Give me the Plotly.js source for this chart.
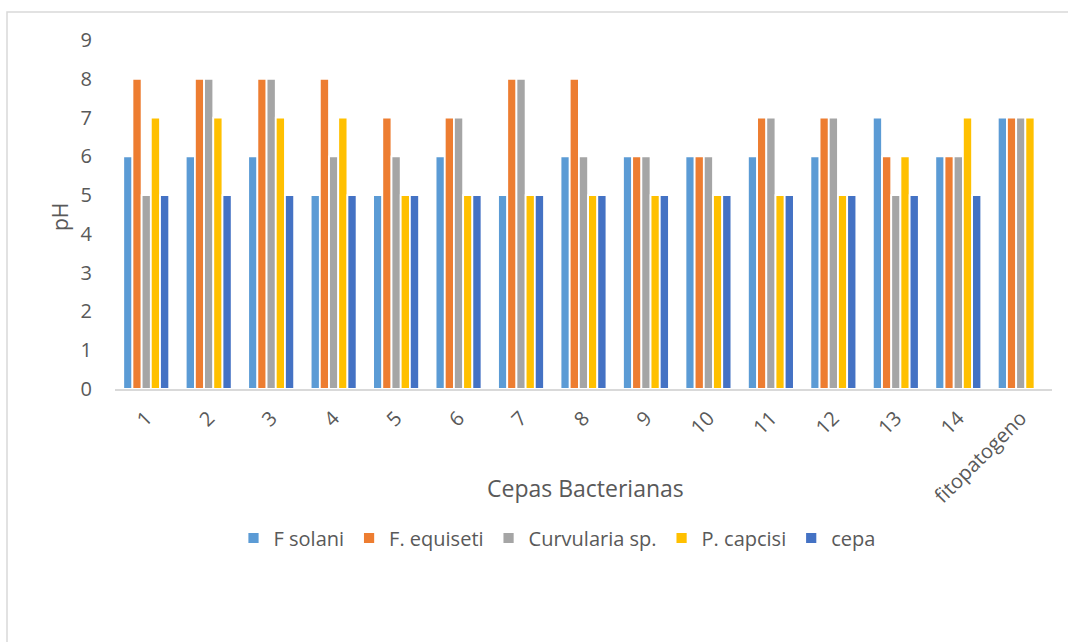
<!DOCTYPE html>
<html>
<head>
<meta charset="utf-8">
<script src="https://cdn.plot.ly/plotly-3.0.1.min.js"></script>
<style>
  html, body { margin: 0; padding: 0; background: #ffffff; }
  #chart { width: 1068px; height: 642px; }
</style>
</head>
<body>
<div id="chart"></div>
<script>
// Bacterial strains tested against each phytopathogen
const categories = ['1', '2', '3', '4', '5', '6', '7', '8', '9', '10', '11', '12', '13', '14', 'fitopatogeno'];

// pH per strain and pathogen
const fSolani     = [6, 6, 6, 5, 5, 6, 5, 6, 6, 6, 6, 6, 7, 6, 7];
const fEquiseti   = [8, 8, 8, 8, 7, 7, 8, 8, 6, 6, 7, 7, 6, 6, 7];
const curvularia  = [5, 8, 8, 6, 6, 7, 8, 6, 6, 6, 7, 7, 5, 6, 7];
const pCapcisi    = [7, 7, 7, 7, 5, 5, 5, 5, 5, 5, 5, 5, 6, 7, 7];
const cepa        = [5, 5, 5, 5, 5, 5, 5, 5, 5, 5, 5, 5, 5, 5, null];

const seriesNames = ['F solani', 'F. equiseti', 'Curvularia sp.', 'P. capcisi', 'cepa'];
const seriesValues = [fSolani, fEquiseti, curvularia, pCapcisi, cepa];
const seriesColors = ['#5B9BD5', '#ED7D31', '#A5A5A5', '#FFC000', '#4472C4'];

const FONT = '"Open Sans", "DejaVu Sans", sans-serif';
const TEXT = '#595959';

const traces = seriesNames.map((name, i) => ({
  type: 'bar',
  name: name,
  x: categories,
  y: seriesValues[i],
  marker: { color: seriesColors[i], line: { color: '#ffffff', width: 1.8 } },
  hoverinfo: 'x+y+name'
}));

// plot area geometry in pixels (used to place paper-referenced annotations)
const L = 115, R = 16, T = 40, B = 253;
const W = 1068, H = 642;
const pw = W - L - R, ph = H - T - B;
const px = x => (x - L) / pw;
const py = y => (H - B - y) / ph;

const layout = {
  width: W,
  height: H,
  margin: { l: L, r: R, t: T, b: B, pad: 0 },
  paper_bgcolor: '#ffffff',
  plot_bgcolor: '#ffffff',
  font: { family: FONT, color: TEXT, size: 18 },
  barmode: 'group',
  bargap: 0.264,
  bargroupgap: 0,
  showlegend: true,
  legend: {
    orientation: 'h',
    x: px(557), xanchor: 'center',
    y: py(538), yanchor: 'middle',
    font: { family: FONT, size: 20, color: TEXT },
    itemwidth: 30,
    traceorder: 'normal'
  },
  xaxis: {
    type: 'category',
    tickangle: -45,
    showgrid: false,
    zeroline: false,
    showline: true,
    linecolor: '#D9D9D9',
    linewidth: 1.5,
    ticks: '',
    ticklabelstandoff: 8,
    tickfont: { family: FONT, size: 20, color: TEXT },
    fixedrange: true
  },
  yaxis: {
    range: [0, 9],
    dtick: 1,
    tick0: 0,
    showgrid: false,
    zeroline: false,
    showline: false,
    ticks: '',
    ticklabelstandoff: 22,
    tickfont: { family: FONT, size: 20, color: TEXT },
    fixedrange: true
  },
  annotations: [
    {
      text: 'Cepas Bacterianas',
      xref: 'paper', yref: 'paper',
      x: px(585), y: py(488),
      xanchor: 'center', yanchor: 'middle',
      showarrow: false,
      font: { family: FONT, size: 23, color: TEXT }
    },
    {
      text: 'pH',
      xref: 'paper', yref: 'paper',
      x: px(60), y: py(217),
      xanchor: 'center', yanchor: 'middle',
      textangle: -90,
      showarrow: false,
      font: { family: FONT, size: 21, color: TEXT }
    }
  ],
  shapes: [
    {
      type: 'rect',
      xref: 'paper', yref: 'paper',
      x0: px(7), x1: px(1090),
      y0: py(670), y1: py(12),
      line: { color: '#D9D9D9', width: 1.5 },
      fillcolor: 'rgba(0,0,0,0)',
      layer: 'below'
    }
  ]
};

Plotly.newPlot('chart', traces, layout, { staticPlot: true, displayModeBar: false });
</script>
</body>
</html>
